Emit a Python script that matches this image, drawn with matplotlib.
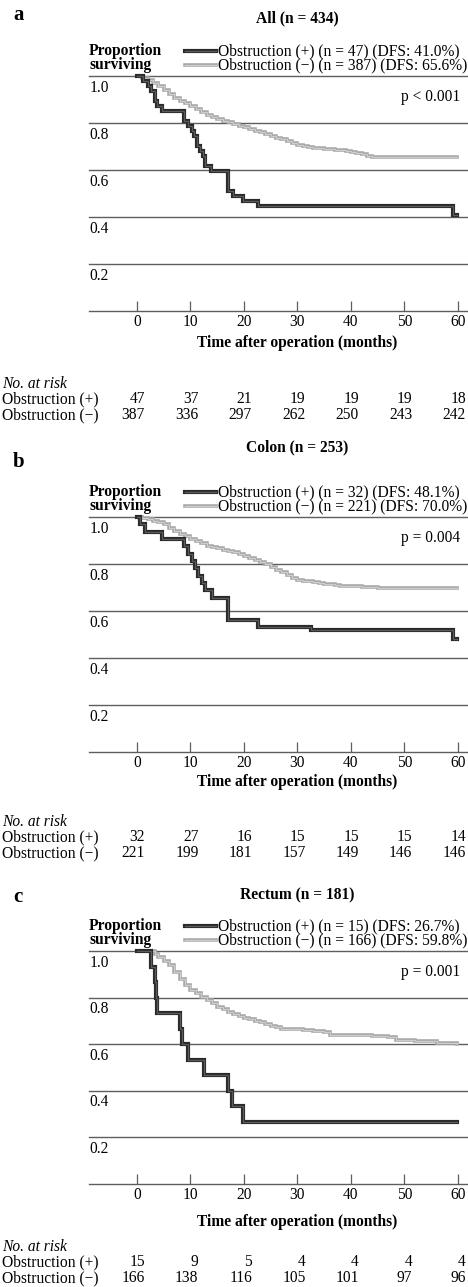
#km_obstruction.py

"""Kaplan-Meier curves of disease-free survival with and without obstruction,
for all patients, colon and rectum."""

import matplotlib
matplotlib.use("Agg")
from matplotlib import pyplot as plt
from matplotlib import transforms
from matplotlib.lines import Line2D

plt.rcParams['font.family'] = ['Liberation Serif', 'DejaVu Serif']
plt.rcParams['font.size'] = 11.2

#Panel text
letters = ["a", "b", "c"]
titles = ["All (n = 434)", "Colon (n = 253)", "Rectum (n = 181)"]
labels_pos = ["Obstruction (+) (n = 47) (DFS: 41.0%)",
              "Obstruction (+) (n = 32) (DFS: 48.1%)",
              "Obstruction (+) (n = 15) (DFS: 26.7%)"]
labels_neg = ["Obstruction (\u2212) (n = 387) (DFS: 65.6%)",
              "Obstruction (\u2212) (n = 221) (DFS: 70.0%)",
              "Obstruction (\u2212) (n = 166) (DFS: 59.8%)"]
p_values = ["p < 0.001", "p = 0.004", "p = 0.001"]

#Curves (months, proportion surviving)
all_pos_t = [0, 1.2, 2.1, 2.7, 3.4, 3.8, 4.6, 8.7, 9.6, 10.2, 10.6, 11.2, 11.8,
             12.4, 12.8, 13.8, 17.1, 18.0, 19.9, 22.7, 59.1, 59.8]
all_pos_s = [1.0, 0.979, 0.957, 0.936, 0.894, 0.872, 0.851, 0.809, 0.787, 0.766,
             0.745, 0.702, 0.681, 0.66, 0.617, 0.596, 0.511, 0.489, 0.468, 0.447,
             0.41, 0.41]
all_neg_t = [0, 1, 2, 3, 4, 5, 6, 7, 8, 9, 10, 11, 12, 13, 14, 15, 16, 17, 18, 19,
             20, 21, 22, 23, 24, 25, 26, 27, 28, 29, 30, 31, 32, 33, 34, 35, 36, 37,
             38, 39, 40, 41, 42, 43, 44, 59.8]
all_neg_s = [1.0, 0.992, 0.982, 0.97, 0.957, 0.94, 0.922, 0.908, 0.895, 0.883,
             0.871, 0.859, 0.847, 0.836, 0.826, 0.817, 0.81, 0.803, 0.796, 0.789,
             0.782, 0.775, 0.767, 0.76, 0.753, 0.746, 0.738, 0.73, 0.722, 0.714,
             0.707, 0.702, 0.698, 0.695, 0.692, 0.69, 0.688, 0.686, 0.683, 0.679,
             0.675, 0.671, 0.667, 0.661, 0.656, 0.656]

colon_pos_t = [0, 0.6, 1.5, 4.6, 8.7, 9.6, 10.2, 10.8, 11.5, 12.1, 12.7, 14.0,
               17.1, 22.7, 32.5, 59.1, 59.8]
colon_pos_s = [1.0, 0.969, 0.938, 0.906, 0.875, 0.844, 0.8125, 0.781, 0.75, 0.719,
               0.6875, 0.656, 0.5625, 0.531, 0.52, 0.481, 0.481]
colon_neg_t = [0, 1, 2, 3, 4, 5, 6, 7, 8, 9, 10, 11, 12, 13, 14, 15, 16, 17, 18,
               19, 20, 21, 22, 23, 24, 25, 26, 27, 28, 29, 30, 31, 32, 33, 34, 35,
               36, 37, 38, 39, 40, 42, 45, 59.8]
colon_neg_s = [1.0, 0.996, 0.99, 0.985, 0.978, 0.97, 0.955, 0.94, 0.928, 0.918,
               0.908, 0.898, 0.888, 0.878, 0.872, 0.866, 0.86, 0.855, 0.849, 0.843,
               0.836, 0.826, 0.817, 0.808, 0.798, 0.787, 0.775, 0.764, 0.752, 0.742,
               0.733, 0.729, 0.726, 0.723, 0.72, 0.717, 0.714, 0.711, 0.708, 0.706,
               0.705, 0.703, 0.70, 0.70]

rectum_pos_t = [0, 2.7, 3.4, 3.6, 3.8, 8.0, 8.5, 9.6, 12.5, 17.1, 17.8, 19.9, 59.8]
rectum_pos_s = [1.0, 0.933, 0.867, 0.8, 0.733, 0.667, 0.6, 0.533, 0.467, 0.4,
                0.333, 0.267, 0.267]
rectum_neg_t = [0, 3.4, 4, 5, 6, 7, 8, 9, 10, 11, 12, 13, 14, 15, 16, 17, 18, 19,
                20, 21, 22, 23, 24, 25, 26, 27, 29, 31, 33, 35, 36, 40, 44, 47, 48.5,
                52, 56, 59.8]
rectum_neg_s = [1.0, 0.988, 0.975, 0.958, 0.94, 0.91, 0.878, 0.855, 0.834, 0.818,
                0.803, 0.79, 0.775, 0.76, 0.75, 0.74, 0.73, 0.72, 0.713, 0.707, 0.70,
                0.694, 0.687, 0.68, 0.673, 0.667, 0.664, 0.661, 0.658, 0.654, 0.641,
                0.638, 0.635, 0.632, 0.618, 0.612, 0.607, 0.603]

#Numbers at risk
risk_times = [0, 10, 20, 30, 40, 50, 60]
all_risk_pos = [47, 37, 21, 19, 19, 19, 18]
all_risk_neg = [387, 336, 297, 262, 250, 243, 242]
colon_risk_pos = [32, 27, 16, 15, 15, 15, 14]
colon_risk_neg = [221, 199, 181, 157, 149, 146, 146]
rectum_risk_pos = [15, 9, 5, 4, 4, 4, 4]
rectum_risk_neg = [166, 138, 116, 105, 101, 97, 96]

curves = [(all_pos_t, all_pos_s, all_neg_t, all_neg_s),
          (colon_pos_t, colon_pos_s, colon_neg_t, colon_neg_s),
          (rectum_pos_t, rectum_pos_s, rectum_neg_t, rectum_neg_s)]
risks = [(all_risk_pos, all_risk_neg), (colon_risk_pos, colon_risk_neg),
         (rectum_risk_pos, rectum_risk_neg)]
y_ticks = [0.2, 0.4, 0.6, 0.8, 1.0]

#Page layout in pixels
W, H = 468, 1287
layout = [dict(letter=15, title=18, top=76, axis=311, xlabel=343, risk=384),
          dict(letter=462, title=447, top=517, axis=752, xlabel=782, risk=822),
          dict(letter=897, title=895, top=951, axis=1184, xlabel=1222, risk=1247)]
LEFT, RIGHT = 89, 467
DARK = "#2a2a2a"
DARK_IN = "#5c5c5c"
LIGHT = "#aaaaaa"
LIGHT_IN = "#cecece"
GRID = "#5e5e5e"

def fx(px):
    return px / W

def fy(px):
    return 1 - px / H

def km_line(ax, t, s, outer, inner, lw):
    """Draws a step curve as a thick band with a paler core, like the print."""
    ax.step(t, s, where="post", color=outer, lw=lw, clip_on=False, zorder=3,
            solid_joinstyle="miter")
    ax.step(t, s, where="post", color=inner, lw=lw * 0.3, clip_on=False, zorder=3,
            solid_joinstyle="miter")

fig = plt.figure(figsize=(W / 100, H / 100), dpi=100)
fig.patch.set_facecolor("white")

for i in range(3):
    lay = layout[i]
    ax = fig.add_axes([fx(LEFT), fy(lay["axis"]), fx(RIGHT) - fx(LEFT),
                       (lay["axis"] - lay["top"]) / H])
    ax.set_xlim(-8.97, 61.7)
    ax.set_ylim(0, 1)
    for s in ax.spines.values():
        s.set_visible(False)
    ax.patch.set_alpha(0)
    #Horizontal rules
    for v in [0] + y_ticks:
        ax.axhline(v, color=GRID, lw=1.0, zorder=1, clip_on=False)
    for v in y_ticks:
        ax.text(-8.9, v - 0.05, f"{v:.1f}", ha="left", va="center")
    ax.set_yticks([])
    ax.set_xticks(risk_times)
    ax.tick_params(axis="x", direction="in", length=7, width=0.9, color=GRID,
                   pad=2, labelsize=11.2)
    #Curves
    pos_t, pos_s, neg_t, neg_s = curves[i]
    km_line(ax, neg_t, neg_s, LIGHT, LIGHT_IN, 2.6)
    km_line(ax, pos_t, pos_s, DARK, DARK_IN, 3.0)
    ax.text(60.4, 0.91, p_values[i], ha="right", va="center")
    #Titles and legend
    fig.text(fx(13), fy(lay["letter"]), letters[i], ha="left", va="center",
             fontsize=15, fontweight="bold")
    fig.text(fx(297), fy(lay["title"]), titles[i], ha="center", va="center",
             fontweight="bold")
    row1, row2 = lay["top"] - 25, lay["top"] - 11
    fig.text(fx(LEFT), fy(row1), "Proportion", ha="left", va="center",
             fontweight="bold")
    fig.text(fx(LEFT), fy(row2), "surviving", ha="left", va="center",
             fontweight="bold")
    fig.add_artist(Line2D([fx(185), fx(216)], [fy(row1), fy(row1)], color=DARK, lw=3.0))
    fig.add_artist(Line2D([fx(185), fx(216)], [fy(row1), fy(row1)], color=DARK_IN, lw=0.9))
    fig.add_artist(Line2D([fx(185), fx(216)], [fy(row2), fy(row2)], color=LIGHT, lw=2.6))
    fig.add_artist(Line2D([fx(185), fx(216)], [fy(row2), fy(row2)], color=LIGHT_IN, lw=0.8))
    fig.text(fx(218), fy(row1), labels_pos[i], ha="left", va="center")
    fig.text(fx(218), fy(row2), labels_neg[i], ha="left", va="center")
    fig.text(fx(297), fy(lay["xlabel"]), "Time after operation (months)",
             ha="center", va="center", fontweight="bold")
    #Numbers at risk
    fig.text(fx(2), fy(lay["risk"]), "No. at risk", ha="left", va="center",
             fontstyle="italic")
    fig.text(fx(2), fy(lay["risk"] + 15), "Obstruction (+)", ha="left", va="center")
    fig.text(fx(2), fy(lay["risk"] + 31), "Obstruction (\u2212)", ha="left", va="center")
    trans = transforms.blended_transform_factory(ax.transData, fig.transFigure)
    risk_pos, risk_neg = risks[i]
    for t, a, b in zip(risk_times, risk_pos, risk_neg):
        ax.text(t + 1.5, fy(lay["risk"] + 15), str(a), ha="right", va="center",
                transform=trans)
        ax.text(t + 1.5, fy(lay["risk"] + 31), str(b), ha="right", va="center",
                transform=trans)

fig.savefig("out.png", dpi=100)
